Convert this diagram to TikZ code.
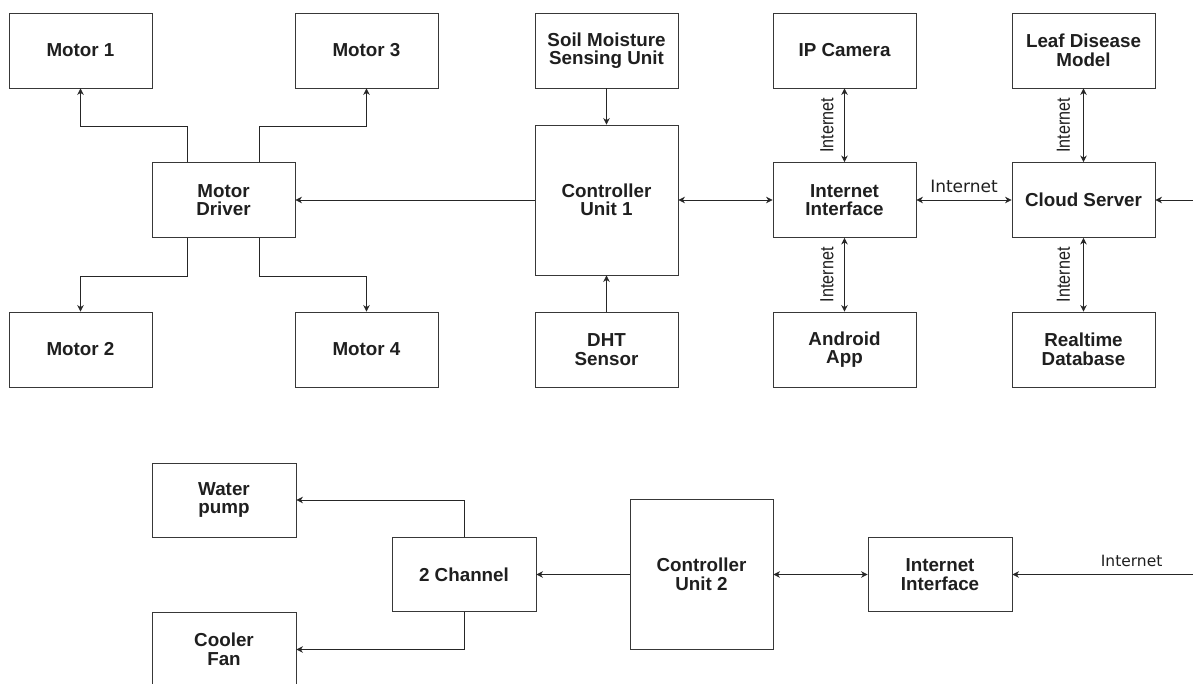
\documentclass[tikz,border=0pt]{standalone}
\usepackage{fontspec}
\setmainfont{Liberation Sans}
\newfontfamily\widefont{DejaVu Sans}
\usetikzlibrary{arrows.meta,calc}

\tikzset{
  blk/.style={draw=black!78, line width=0.9pt, minimum width=143pt, minimum height=75pt,
    inner sep=0pt, align=center, text=black!88,
    font=\fontsize{18.8}{18.5}\selectfont\bfseries},
  tall/.style={blk, minimum height=150pt},
  tip/.tip={Stealth[length=6.5pt,width=6.5pt]},
  link/.style={draw=black!85, line width=0.8pt, -tip},
  both/.style={draw=black!85, line width=0.8pt, tip-tip},
  hlab/.style={font=\widefont\fontsize{17}{18}\selectfont, text=black!88, inner sep=0pt},
  vlab/.style={font=\fontsize{19}{19}\selectfont, text=black!88, inner sep=0pt, rotate=90},
}
\newcommand{\narrowtext}[1]{\scalebox{0.85}[1]{#1}}

\begin{document}
\begin{tikzpicture}[x=1pt, y=-1pt]
\clip (0,0) rectangle (1193,683);
\fill[white] (0,0) rectangle (1193,683);

% ---- upper system: motors, controller 1, cloud side ----
\node[blk] (m1) at (80.5,50.5) {Motor 1};
\node[blk] (m3) at (366.5,50.5) {Motor 3};
\node[blk] (md) at (223.5,200) {Motor\\Driver};
\node[blk] (m2) at (80.5,349.5) {Motor 2};
\node[blk] (m4) at (366.5,349.5) {Motor 4};

\node[blk]  (soil) at (606.5,50.5) {Soil Moisture\\Sensing Unit};
\node[tall] (c1)   at (606.5,200) {Controller\\Unit 1};
\node[blk]  (dht)  at (606.5,349.5) {DHT\\Sensor};

\node[blk] (cam) at (844.5,50.5) {IP Camera};
\node[blk] (ii)  at (844.5,200) {Internet\\Interface};
\node[blk] (app) at (844.5,349.5) {Android\\App};

\node[blk] (leaf)  at (1083.5,50.5) {Leaf Disease\\Model};
\node[blk] (cloud) at (1083.5,200) {Cloud Server};
\node[blk] (db)    at (1083.5,349.5) {Realtime\\Database};

\coordinate (cin) at (1193,200);

% motor driver fan-out
\draw[link] ([xshift=-35.75pt]md.north) -- ++(0,-36) -| (m1.south);
\draw[link] ([xshift=35.75pt]md.north)  -- ++(0,-36) -| (m3.south);
\draw[link] ([xshift=-35.75pt]md.south) -- ++(0,38)  -| (m2.north);
\draw[link] ([xshift=35.75pt]md.south)  -- ++(0,38)  -| (m4.north);

\draw[link] (c1.west) -- (md.east);
\draw[link] (soil.south) -- (c1.north);
\draw[link] (dht.north) -- (c1.south);
\draw[both] (c1.east) -- (ii.west);

% rotated labels: yshift moves them left once the node is turned
\draw[both] (cam.south) -- node[vlab, yshift=17.5pt] {\narrowtext{Internet}} (ii.north);
\draw[both] (ii.south) -- node[vlab, yshift=17.5pt] {\narrowtext{Internet}} (app.north);
\draw[both] (ii.east) -- node[hlab, yshift=14pt] {Internet} (cloud.west);
\draw[both] (leaf.south) -- node[vlab, yshift=20pt] {\narrowtext{Internet}} (cloud.north);
\draw[both] (cloud.south) -- node[vlab, yshift=20pt] {\narrowtext{Internet}} (db.north);
\draw[link] (cin) -- (cloud.east);

% ---- lower system: controller 2 and relay outputs ----
\node[blk, minimum width=144pt, minimum height=74pt] (wp)  at (224,500) {Water\\pump};
\node[blk, minimum width=144pt, minimum height=74pt] (ch)  at (464,574.5) {2 Channel};
\node[blk, minimum width=144pt] (fan) at (224,649.5) {Cooler\\Fan};
\node[tall] (c2)  at (701.5,574.5) {Controller\\Unit 2};
\node[blk, minimum width=144pt, minimum height=74pt] (ii2) at (940,574.5) {Internet\\Interface};

\coordinate (cin2) at (1193,574.5);

\draw[link] (ch.north) |- (wp.east);
\draw[link] (ch.south) |- (fan.east);
\draw[link] (c2.west) -- (ch.east);
\draw[both] (c2.east) -- (ii2.west);
\draw[link] (cin2) -- node[hlab, pos=0.34, yshift=14pt, font=\widefont\fontsize{15.5}{17}\selectfont] {Internet} (ii2.east);
\end{tikzpicture}
\end{document}
